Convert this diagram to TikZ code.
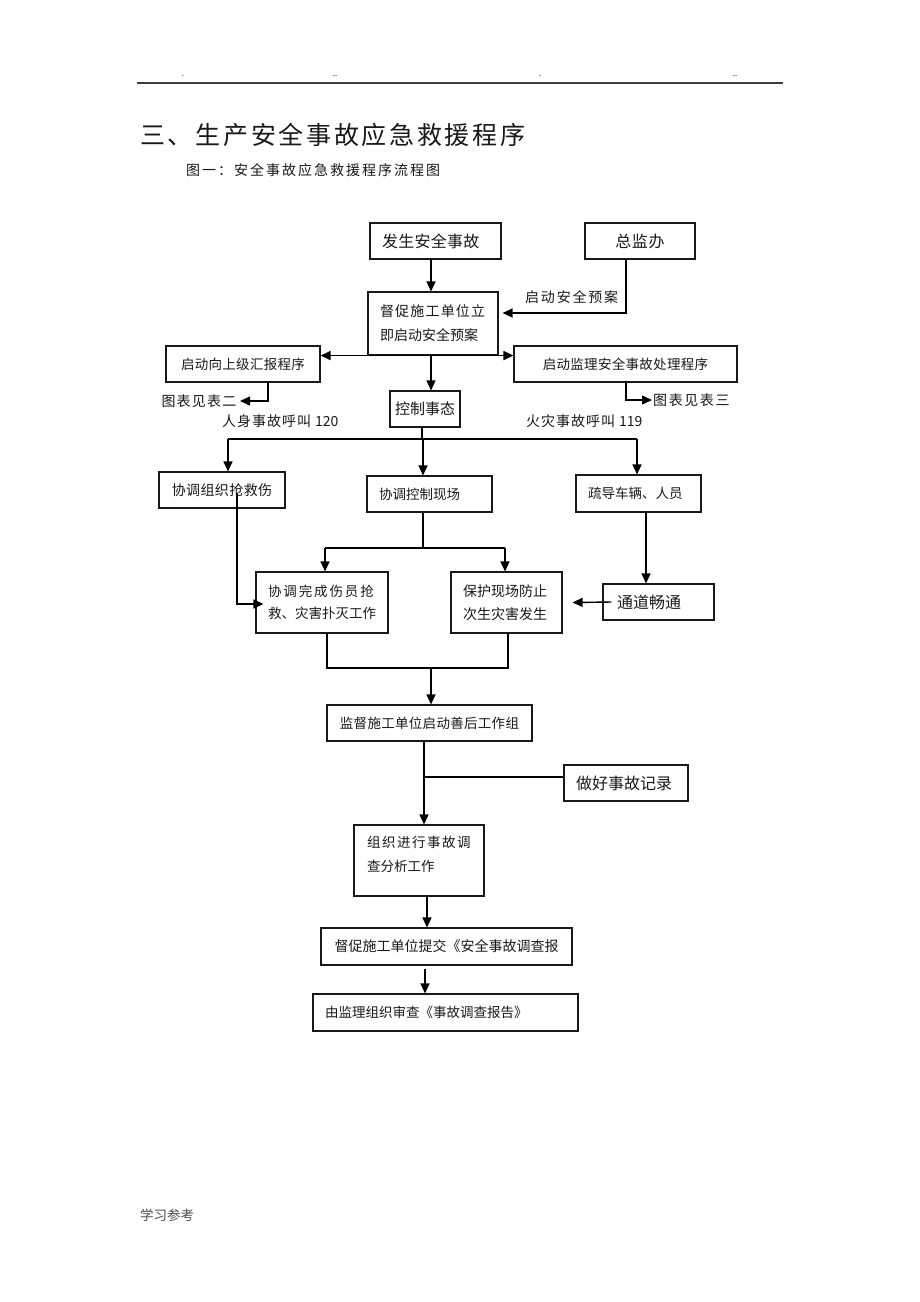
\documentclass[tikz,border=0pt]{standalone}
\usepackage{fontspec}
\setmainfont{Noto Sans CJK SC}
\usetikzlibrary{arrows.meta}
\newlength\lsp
\makeatletter
\def\ls#1#2{\setlength\lsp{#1}\ls@a#2\relax}
\def\ls@a#1#2{#1\ifx#2\relax\else\hspace{\lsp}\expandafter\ls@a\expandafter#2\fi}
\makeatother
\newcommand\fs[1]{\fontsize{#1}{#1}\selectfont}
\begin{document}
\begin{tikzpicture}[x=1pt,y=-1pt,
  box/.style={draw=black!90, line width=1.1pt, inner xsep=12pt, inner ysep=0pt, text=black!90},
  arr/.style={draw=black, line width=1.4pt, -{Triangle[length=10pt,width=9pt]}},
  arrs/.style={draw=black, line width=1.4pt, {Triangle[length=10pt,width=9pt]}-{Triangle[length=10pt,width=9pt]}},
  ln/.style={draw=black, line width=1.4pt},
  lab/.style={inner sep=0pt, text=black!90},
]
\useasboundingbox (0,0) rectangle (920,1302);
\fill[white] (0,0) rectangle (920,1302);

% header
\draw[line width=1.6pt, black!75] (137,83) -- (783,83);
\node[lab, font={\fs{8}}] (d1) at (183,76) {.};
\node[lab, font={\fs{8}}] (d2) at (335,76) {..};
\node[lab, font={\fs{8}}] (d3) at (540,76) {.};
\node[lab, font={\fs{8}}] (d4) at (735,76) {..};

% titles
\node[lab, anchor=west, font={\fs{25}}] (title) at (140,135) {\ls{2.7pt}{三、生产安全事故应急救援程序}};
\node[lab, anchor=west, font={\fs{14}}] (sub) at (186,170) {\ls{2pt}{图一：安全事故应急救援程序流程图}};

% boxes
\node[box, minimum width=131pt, minimum height=36pt, text width=107pt, align=left, font={\fs{16}}] (a) at (435.5,241) {\ls{0.3pt}{发生安全事故}};
\node[box, minimum width=110pt, minimum height=36pt, text width=86pt, align=center, font={\fs{16}}] (zjb) at (640,241) {\ls{0.6pt}{总监办}};
\node[box, minimum width=130pt, minimum height=63pt, text width=106pt, align=left, font={\fontsize{14}{24}\selectfont}] (b) at (433,323.5) {\ls{1.2pt}{督促施工单位立}\\即启动安全预案};
\node[box, minimum width=154pt, minimum height=36pt, text width=130pt, align=center, font={\fs{13.5}}] (c) at (243,364) {\ls{0.3pt}{启动向上级汇报程序}};
\node[box, minimum width=223pt, minimum height=36pt, text width=199pt, align=center, font={\fs{13.5}}] (d) at (625.5,364) {\ls{0.3pt}{启动监理安全事故处理程序}};
\node[box, inner xsep=3pt, minimum width=70pt, minimum height=36pt, text width=64pt, align=center, font={\fs{15}}] (e) at (425,409) {控制事态};
\node[box, minimum width=126pt, minimum height=36pt, text width=102pt, align=center, font={\fs{14}}] (f) at (222,490) {\ls{0.4pt}{协调组织抢救伤}};
\node[box, minimum width=125pt, minimum height=36pt, text width=101pt, align=left, font={\fs{13.5}}] (g) at (429.5,494) {协调控制现场};
\node[box, minimum width=125pt, minimum height=37pt, text width=101pt, align=left, font={\fs{13.5}}] (h) at (638.5,493.5) {疏导车辆、人员};
\node[box, minimum width=132pt, minimum height=61pt, text width=108pt, align=left, font={\fontsize{13.5}{22.5}\selectfont}] (i) at (322,602.5) {\ls{1.9pt}{协调完成伤员抢}\\救、灾害扑灭工作};
\node[box, minimum width=111pt, minimum height=61pt, text width=87pt, align=left, font={\fontsize{14}{23}\selectfont}] (j) at (506.5,602.5) {保护现场防止\\次生灾害发生};
\node[box, inner xsep=14pt, minimum width=111pt, minimum height=36pt, text width=83pt, align=left, font={\fs{16}}] (k) at (658.5,602) {通道畅通};
\node[box, minimum width=205pt, minimum height=36pt, text width=181pt, align=center, font={\fs{13.5}}] (l) at (429.5,723) {\ls{0.3pt}{监督施工单位启动善后工作组}};
\node[box, minimum width=124pt, minimum height=36pt, text width=100pt, align=left, font={\fs{16}}] (m) at (626,783) {做好事故记录};
\node[box, minimum width=130pt, minimum height=71pt] (n) at (419,860.5) {};
\node[lab, anchor=north west, align=left, font={\fontsize{13.5}{24}\selectfont}] (nt) at (367,836) {\ls{1.5pt}{组织进行事故调}\\查分析工作};
\node[box, minimum width=251pt, minimum height=37pt, text width=227pt, align=center, font={\fs{14}}] (o) at (446.5,946.5) {督促施工单位提交《安全事故调查报};
\node[box, minimum width=265pt, minimum height=37pt, text width=241pt, align=left, font={\fs{13.5}}] (p) at (445.5,1012.5) {由监理组织审查《事故调查报告》};

% labels
\node[lab, anchor=west, font={\fs{14}}] (lab1) at (525,297) {\ls{1.8pt}{启动安全预案}};
\node[lab, inner xsep=3.5pt, anchor=east, font={\fs{14}}] (t2) at (240,401) {\ls{1.2pt}{图表见表二}};
\node[lab, inner xsep=1pt, anchor=west, font={\fs{14}}] (t3) at (652,400) {\ls{1.6pt}{图表见表三}};
\node[lab, anchor=west, font={\fs{14}}] (l120) at (222,421) {\ls{1pt}{人身事故呼叫}\hspace{4pt}120};
\node[lab, anchor=west, font={\fs{14}}] (l119) at (526,421) {\ls{1pt}{火灾事故呼叫}\hspace{4pt}119};
\node[lab, anchor=west, font={\fs{13.5}}, text=black!70] (foot) at (140,1215) {学习参考};

% helper coordinates
\coordinate (X228) at (228,0);
\coordinate (X268) at (268,0);
\coordinate (X325) at (325,0);
\coordinate (X327) at (327,0);
\coordinate (X422) at (422,0);
\coordinate (X423) at (423,0);
\coordinate (X424) at (424,0);
\coordinate (X425) at (425,0);
\coordinate (X427) at (427,0);
\coordinate (X431) at (431,0);
\coordinate (X505) at (505,0);
\coordinate (X508) at (508,0);
\coordinate (X626) at (626,0);
\coordinate (X637) at (637,0);
\coordinate (X646) at (646,0);
\coordinate (bar) at (0,439);
\coordinate (bar2) at (0,548);
\coordinate (bar3) at (0,668);
\coordinate (r777) at (0,777);
\coordinate (fi) at (237,493);
\coordinate (og) at ([yshift=-3pt]o.south);

% connectors
\draw[arr] (a.south -| X431) -- (b.north -| X431);
\draw[arr] (zjb.south -| X626) |- ([shift={(4pt,10.5pt)}]b.east);
\draw[arrs] (c.east |- b.south) -- (d.west |- b.south);
\draw[arr] (b.south -| X431) -- (e.north -| X431);
\draw[arr] (c.south -| X268) |- (t2.east);
\draw[arr] (d.south -| X626) |- (t3.west);
\draw[ln] (e.south -| X422) -- (X422 |- bar);
\draw[ln] (X228 |- bar) -- (X637 |- bar);
\draw[arr] (X228 |- bar) -- (f.north -| X228);
\draw[arr] (X423 |- bar) -- (g.north -| X423);
\draw[arr] (X637 |- bar) -- (h.north -| X637);
\draw[ln] (g.south -| X423) -- (X423 |- bar2);
\draw[ln] (X325 |- bar2) -- (X505 |- bar2);
\draw[arr] (X325 |- bar2) -- (i.north -| X325);
\draw[arr] (X505 |- bar2) -- (j.north -| X505);
\draw[arr] (fi) |- ([shift={(8pt,-1.5pt)}]i.west);
\draw[arr] (h.south -| X646) -- (k.north -| X646);
\draw[arr] ([xshift=9pt]k.west) -- ([xshift=10pt]j.east);
\draw[ln] (i.south -| X327) |- (X508 |- bar3) -- (j.south -| X508);
\draw[arr] (X431 |- bar3) -- (l.north -| X431);
\draw[arr] (l.south -| X424) -- (n.north -| X424);
\draw[ln] (m.west |- r777) -- (X424 |- r777);
\draw[arr] (n.south -| X427) -- (o.north -| X427);
\draw[arr] (og -| X425) -- (p.north -| X425);
\end{tikzpicture}
\end{document}
